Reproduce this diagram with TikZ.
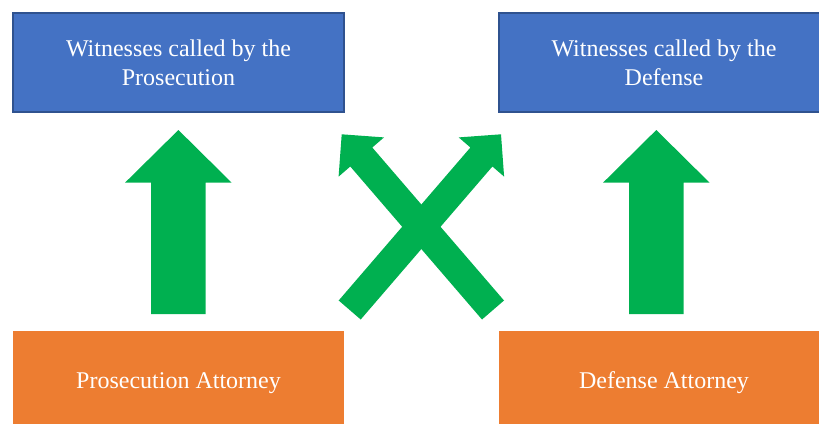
\documentclass[tikz,border=0pt]{standalone}
\usepackage{fontspec}
\setmainfont{Liberation Serif}
\definecolor{boxblue}{HTML}{4472C4}
\definecolor{boxblueline}{HTML}{2F528F}
\definecolor{boxorange}{HTML}{ED7D31}
\definecolor{arrowgreen}{HTML}{00B050}
\tikzset{
  bluebox/.style={rectangle, fill=boxblue, draw=boxblueline, line width=1.2pt, text=white, align=center, inner sep=0pt, font=\fontsize{24}{29}\selectfont},
  orangebox/.style={rectangle, fill=boxorange, text=white, align=center, inner sep=0pt, font=\fontsize{24}{29}\selectfont},
  blockarrow/.style={fill=arrowgreen, draw=none}
}
\begin{document}
\begin{tikzpicture}[x=1pt,y=-1pt]
\useasboundingbox (0,0) rectangle (819,423);
\clip (0,0) rectangle (819,423);
% boxes
\node[bluebox, minimum width=331pt, minimum height=99pt] (wp) at (178.5,62.5) {Witnesses called by the\\Prosecution};
\node[bluebox, minimum width=330pt, minimum height=99pt] (wd) at (664,62.5) {Witnesses called by the\\Defense};
\node[orangebox, minimum width=331pt, minimum height=104pt] (pa) at (178.5,383) {Prosecution Attorney};
\node[orangebox, minimum width=330pt, minimum height=104pt] (da) at (664,383) {Defense Attorney};
% vertical block arrows
\fill[blockarrow] (151,314) -- (151,182.7) -- (125,182.7) -- (178.4,130) -- (231.7,182.7) -- (205.7,182.7) -- (205.7,314) -- cycle;
\fill[blockarrow] (629,314) -- (629,182.7) -- (603,182.7) -- (656.3,130) -- (709.6,182.7) -- (683.6,182.7) -- (683.6,314) -- cycle;
% crossing block arrows
\fill[blockarrow] (504.0,300.5) -- (372.3,147.5) -- (384.0,137.4) -- (341.7,134.3) -- (338.6,176.6) -- (350.3,166.5) -- (482.0,319.5) -- cycle;
\fill[blockarrow] (338.7,300.5) -- (470.4,147.5) -- (458.7,137.4) -- (501.0,134.3) -- (504.1,176.6) -- (492.4,166.5) -- (360.7,319.5) -- cycle;
\end{tikzpicture}
\end{document}
